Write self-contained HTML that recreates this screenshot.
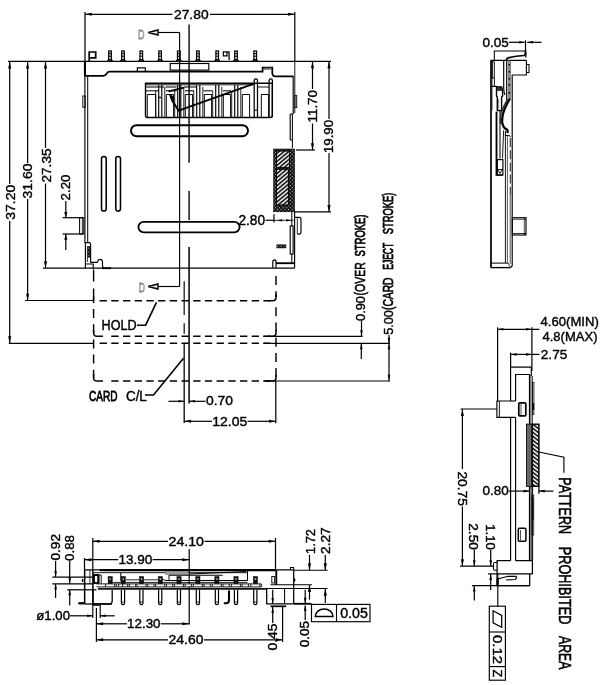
<!DOCTYPE html>
<html lang="en"><head><meta charset="utf-8"><title>Card connector drawing</title>
<style>
html,body{margin:0;padding:0;background:#fff;}
body{width:605px;height:685px;overflow:hidden;}
svg{display:block;will-change:transform;opacity:0.999;font-family:"Liberation Sans",sans-serif;}
text{stroke:#000;stroke-width:0.4px;}
</style></head><body>
<svg width="605" height="685" viewBox="0 0 605 685">
<defs>
<pattern id="h1" width="3.1" height="3.1" patternUnits="userSpaceOnUse" patternTransform="rotate(50)"><line x1="1" y1="0" x2="1" y2="3.1" stroke="#000" stroke-width="1.55"/></pattern>
<pattern id="h2" width="2.6" height="2.6" patternUnits="userSpaceOnUse" patternTransform="rotate(45)"><rect width="2.6" height="2.6" fill="#000"/><rect x="0.7" y="0.7" width="1.2" height="1.2" fill="#ddd"/></pattern>
<pattern id="h3" width="3.2" height="3.2" patternUnits="userSpaceOnUse" patternTransform="rotate(-53)"><line x1="1" y1="0" x2="1" y2="3.2" stroke="#000" stroke-width="1.5"/></pattern>
</defs>
<rect width="605" height="685" fill="#fff"/>
<line x1="8" y1="61.35" x2="331" y2="61.35" stroke="#000" stroke-width="1.44"/>
<line x1="9.7" y1="61" x2="9.7" y2="184" stroke="#000" stroke-width="1.21"/>
<line x1="9.7" y1="221" x2="9.7" y2="343" stroke="#000" stroke-width="1.21"/>
<line x1="27.6" y1="61" x2="27.6" y2="163" stroke="#000" stroke-width="1.21"/>
<line x1="27.6" y1="199" x2="27.6" y2="300.5" stroke="#000" stroke-width="1.21"/>
<line x1="45.5" y1="61" x2="45.5" y2="148" stroke="#000" stroke-width="1.21"/>
<line x1="45.5" y1="183.5" x2="45.5" y2="268" stroke="#000" stroke-width="1.21"/>
<polygon points="9.7,61.8 8.139999999999999,68.6 11.26,68.6" fill="#000"/>
<polygon points="27.6,61.8 26.040000000000003,68.6 29.16,68.6" fill="#000"/>
<polygon points="45.5,61.8 43.94,68.6 47.06,68.6" fill="#000"/>
<polygon points="9.7,343 8.139999999999999,336.2 11.26,336.2" fill="#000"/>
<polygon points="27.6,300.5 26.040000000000003,293.7 29.16,293.7" fill="#000"/>
<polygon points="45.5,268 43.94,261.2 47.06,261.2" fill="#000"/>
<text transform="translate(14.6,219.75) rotate(-90)" font-size="13.6" fill="#000" textLength="35" lengthAdjust="spacingAndGlyphs">37.20</text>
<text transform="translate(32,198.5) rotate(-90)" font-size="13.6" fill="#000" textLength="35" lengthAdjust="spacingAndGlyphs">31.60</text>
<text transform="translate(50.5,182.5) rotate(-90)" font-size="13.6" fill="#000" textLength="34" lengthAdjust="spacingAndGlyphs">27.35</text>
<line x1="85" y1="12" x2="85" y2="61" stroke="#000" stroke-width="1.21"/>
<line x1="294.8" y1="12" x2="294.8" y2="62" stroke="#000" stroke-width="1.21"/>
<line x1="85" y1="14.3" x2="172.5" y2="14.3" stroke="#000" stroke-width="1.21"/>
<line x1="210" y1="14.3" x2="294.8" y2="14.3" stroke="#000" stroke-width="1.21"/>
<polygon points="85,14.3 91.8,12.74 91.8,15.860000000000001" fill="#000"/>
<polygon points="294.8,14.3 288.0,12.74 288.0,15.860000000000001" fill="#000"/>
<text x="174" y="18.9" font-size="13.6" fill="#000" textLength="34.6" lengthAdjust="spacingAndGlyphs">27.80</text>
<text x="138" y="38.5" font-size="13" fill="#fff" textLength="6.5" lengthAdjust="spacingAndGlyphs" stroke="#888" stroke-width="0.6">D</text>
<text x="138.5" y="292" font-size="13" fill="#fff" textLength="6.5" lengthAdjust="spacingAndGlyphs" stroke="#888" stroke-width="0.6">D</text>
<polygon points="148.3,32.5 158,30.0 158,35.0" fill="#eee" stroke="#000" stroke-width="1.44" stroke-linejoin="miter"/>
<line x1="158" y1="32.5" x2="179.6" y2="32.5" stroke="#000" stroke-width="1.15"/>
<polygon points="148.3,286.5 158,284.0 158,289.0" fill="#eee" stroke="#000" stroke-width="1.44" stroke-linejoin="miter"/>
<line x1="158" y1="286.5" x2="179.6" y2="286.5" stroke="#000" stroke-width="1.15"/>
<line x1="179.6" y1="32.5" x2="179.6" y2="286.5" stroke="#000" stroke-width="1.15"/>
<line x1="189.1" y1="24.5" x2="189.1" y2="162.8" stroke="#333" stroke-width="1.72"/>
<line x1="189.1" y1="191" x2="189.1" y2="220" stroke="#333" stroke-width="1.72"/>
<line x1="189.1" y1="247" x2="189.1" y2="403.5" stroke="#222" stroke-width="1.72"/>
<line x1="184.2" y1="281.2" x2="184.2" y2="315" stroke="#222" stroke-width="1.32"/>
<line x1="184.2" y1="323.2" x2="184.2" y2="333.7" stroke="#222" stroke-width="1.32"/>
<line x1="184.2" y1="343" x2="184.2" y2="423" stroke="#111" stroke-width="1.38"/>
<path d="M85,61 V75.8 H103 Q105.6,75.8 106.7,73.6 Q107.6,71.7 110,71.7 H262.6 V67.6 H272.3 V73 Q272.3,76.4 276,76.4 H293.2" fill="none" stroke="#000" stroke-width="1.72"/>
<line x1="84.9" y1="61" x2="84.9" y2="75.8" stroke="#000" stroke-width="1.95"/>
<line x1="84.9" y1="75" x2="84.9" y2="243" stroke="#000" stroke-width="1.15"/>
<line x1="87.7" y1="76" x2="87.7" y2="243" stroke="#000" stroke-width="1.03"/>
<rect x="82.8" y="96" width="2.4" height="11.3" fill="none" stroke="#000" stroke-width="0.92"/>
<polyline points="137.3,71.7 137.3,67.9 145.3,67.9 145.3,71.7" fill="none" stroke="#000" stroke-width="1.15" stroke-linejoin="miter"/>
<rect x="170.2" y="63.5" width="38.6" height="6.6" fill="none" stroke="#000" stroke-width="1.15"/>
<rect x="264.4" y="68" width="7" height="1.6" fill="none" stroke="#555" stroke-width="0.69"/>
<line x1="293.2" y1="76" x2="293.2" y2="114" stroke="#000" stroke-width="1.15"/>
<line x1="294.8" y1="62" x2="294.8" y2="113" stroke="#000" stroke-width="0.92"/>
<rect x="294.9" y="95.6" width="1.8" height="12" fill="none" stroke="#000" stroke-width="0.92"/>
<line x1="290.2" y1="114" x2="290.2" y2="140" stroke="#000" stroke-width="1.15"/>
<line x1="292.4" y1="114" x2="292.4" y2="148" stroke="#000" stroke-width="1.03"/>
<line x1="290.2" y1="114" x2="293.2" y2="114" stroke="#000" stroke-width="1.03"/>
<line x1="290.2" y1="140" x2="292.4" y2="140" stroke="#000" stroke-width="1.03"/>
<rect x="108.7" y="51" width="2.6" height="9" fill="none" stroke="#000" stroke-width="1.26"/>
<line x1="108.7" y1="53.6" x2="111.3" y2="53.6" stroke="#000" stroke-width="1.03"/>
<line x1="108.7" y1="56.2" x2="111.3" y2="56.2" stroke="#000" stroke-width="1.03"/>
<polyline points="107.4,61 108.7,59.6 111.3,59.6 112.6,61" fill="none" stroke="#000" stroke-width="1.15" stroke-linejoin="miter"/>
<rect x="121.7" y="51" width="2.6" height="9" fill="none" stroke="#000" stroke-width="1.26"/>
<line x1="121.7" y1="53.6" x2="124.3" y2="53.6" stroke="#000" stroke-width="1.03"/>
<line x1="121.7" y1="56.2" x2="124.3" y2="56.2" stroke="#000" stroke-width="1.03"/>
<polyline points="120.4,61 121.7,59.6 124.3,59.6 125.6,61" fill="none" stroke="#000" stroke-width="1.15" stroke-linejoin="miter"/>
<rect x="140.0" y="51" width="2.6" height="9" fill="none" stroke="#000" stroke-width="1.26"/>
<line x1="140.0" y1="53.6" x2="142.60000000000002" y2="53.6" stroke="#000" stroke-width="1.03"/>
<line x1="140.0" y1="56.2" x2="142.60000000000002" y2="56.2" stroke="#000" stroke-width="1.03"/>
<polyline points="138.70000000000002,61 140.0,59.6 142.60000000000002,59.6 143.9,61" fill="none" stroke="#000" stroke-width="1.15" stroke-linejoin="miter"/>
<rect x="158.79999999999998" y="51" width="2.6" height="9" fill="none" stroke="#000" stroke-width="1.26"/>
<line x1="158.79999999999998" y1="53.6" x2="161.4" y2="53.6" stroke="#000" stroke-width="1.03"/>
<line x1="158.79999999999998" y1="56.2" x2="161.4" y2="56.2" stroke="#000" stroke-width="1.03"/>
<polyline points="157.5,61 158.79999999999998,59.6 161.4,59.6 162.7,61" fill="none" stroke="#000" stroke-width="1.15" stroke-linejoin="miter"/>
<rect x="177.5" y="51" width="2.6" height="9" fill="none" stroke="#000" stroke-width="1.26"/>
<line x1="177.5" y1="53.6" x2="180.10000000000002" y2="53.6" stroke="#000" stroke-width="1.03"/>
<line x1="177.5" y1="56.2" x2="180.10000000000002" y2="56.2" stroke="#000" stroke-width="1.03"/>
<polyline points="176.20000000000002,61 177.5,59.6 180.10000000000002,59.6 181.4,61" fill="none" stroke="#000" stroke-width="1.15" stroke-linejoin="miter"/>
<rect x="196.6" y="51" width="2.6" height="9" fill="none" stroke="#000" stroke-width="1.26"/>
<line x1="196.6" y1="53.6" x2="199.20000000000002" y2="53.6" stroke="#000" stroke-width="1.03"/>
<line x1="196.6" y1="56.2" x2="199.20000000000002" y2="56.2" stroke="#000" stroke-width="1.03"/>
<polyline points="195.3,61 196.6,59.6 199.20000000000002,59.6 200.5,61" fill="none" stroke="#000" stroke-width="1.15" stroke-linejoin="miter"/>
<rect x="215.89999999999998" y="51" width="2.6" height="9" fill="none" stroke="#000" stroke-width="1.26"/>
<line x1="215.89999999999998" y1="53.6" x2="218.5" y2="53.6" stroke="#000" stroke-width="1.03"/>
<line x1="215.89999999999998" y1="56.2" x2="218.5" y2="56.2" stroke="#000" stroke-width="1.03"/>
<polyline points="214.6,61 215.89999999999998,59.6 218.5,59.6 219.79999999999998,61" fill="none" stroke="#000" stroke-width="1.15" stroke-linejoin="miter"/>
<rect x="234.7" y="51" width="2.6" height="9" fill="none" stroke="#000" stroke-width="1.26"/>
<line x1="234.7" y1="53.6" x2="237.3" y2="53.6" stroke="#000" stroke-width="1.03"/>
<line x1="234.7" y1="56.2" x2="237.3" y2="56.2" stroke="#000" stroke-width="1.03"/>
<polyline points="233.4,61 234.7,59.6 237.3,59.6 238.6,61" fill="none" stroke="#000" stroke-width="1.15" stroke-linejoin="miter"/>
<rect x="253.89999999999998" y="51" width="2.6" height="9" fill="none" stroke="#000" stroke-width="1.26"/>
<line x1="253.89999999999998" y1="53.6" x2="256.5" y2="53.6" stroke="#000" stroke-width="1.03"/>
<line x1="253.89999999999998" y1="56.2" x2="256.5" y2="56.2" stroke="#000" stroke-width="1.03"/>
<polyline points="252.6,61 253.89999999999998,59.6 256.5,59.6 257.8,61" fill="none" stroke="#000" stroke-width="1.15" stroke-linejoin="miter"/>
<polyline points="89.2,61 89.2,52 95.7,52 95.7,57.8 89.2,57.8" fill="none" stroke="#000" stroke-width="1.72" stroke-linejoin="miter"/>
<polyline points="229.1,60 229.1,51.9 223.4,51.9 223.4,55.8 227,55.8 227,51.9" fill="none" stroke="#000" stroke-width="1.26" stroke-linejoin="miter"/>
<path d="M145.5,83.3 H272.3 V115.5 Q272.3,117.5 270,117.5 H147.5 Q145.5,117.5 145.5,115.5 Z" fill="none" stroke="#000" stroke-width="1.38"/>
<line x1="145.5" y1="84.8" x2="253" y2="84.8" stroke="#000" stroke-width="0.92"/>
<line x1="145.5" y1="87" x2="164" y2="87" stroke="#000" stroke-width="1.03"/>
<line x1="165.6" y1="87" x2="176.6" y2="87" stroke="#000" stroke-width="1.03"/>
<line x1="184" y1="87" x2="196" y2="87" stroke="#000" stroke-width="1.03"/>
<line x1="145.5" y1="90.8" x2="158.6" y2="90.8" stroke="#000" stroke-width="1.03"/>
<line x1="166" y1="90.8" x2="176.6" y2="90.8" stroke="#000" stroke-width="1.03"/>
<line x1="185" y1="90.8" x2="194" y2="90.8" stroke="#000" stroke-width="1.03"/>
<line x1="203.5" y1="90.8" x2="212.5" y2="90.8" stroke="#000" stroke-width="1.03"/>
<line x1="223" y1="90.8" x2="231" y2="90.8" stroke="#000" stroke-width="1.03"/>
<polyline points="147.3,117.3 147.3,94.5 155.7,94.5 155.7,117.3" fill="none" stroke="#000" stroke-width="0.98" stroke-linejoin="miter"/>
<polyline points="166.3,117.3 166.3,94.5 173.6,94.5 173.6,117.3" fill="none" stroke="#000" stroke-width="0.98" stroke-linejoin="miter"/>
<line x1="158.7" y1="85" x2="158.7" y2="117.3" stroke="#000" stroke-width="1.15"/>
<line x1="161.8" y1="85" x2="161.8" y2="117.3" stroke="#000" stroke-width="1.15"/>
<line x1="155.7" y1="90.8" x2="155.7" y2="117.3" stroke="#000" stroke-width="0.86"/>
<line x1="164.8" y1="87" x2="164.8" y2="117.3" stroke="#000" stroke-width="0.86"/>
<polyline points="185.3,117.3 185.3,94.5 192.6,94.5 192.6,117.3" fill="none" stroke="#000" stroke-width="0.98" stroke-linejoin="miter"/>
<line x1="177.7" y1="85" x2="177.7" y2="117.3" stroke="#000" stroke-width="1.15"/>
<line x1="180.8" y1="85" x2="180.8" y2="117.3" stroke="#000" stroke-width="1.15"/>
<line x1="174.7" y1="90.8" x2="174.7" y2="117.3" stroke="#000" stroke-width="0.86"/>
<line x1="183.8" y1="87" x2="183.8" y2="117.3" stroke="#000" stroke-width="0.86"/>
<polyline points="204.3,117.3 204.3,94.5 211.6,94.5 211.6,117.3" fill="none" stroke="#000" stroke-width="0.98" stroke-linejoin="miter"/>
<line x1="196.7" y1="85" x2="196.7" y2="117.3" stroke="#000" stroke-width="1.15"/>
<line x1="199.8" y1="85" x2="199.8" y2="117.3" stroke="#000" stroke-width="1.15"/>
<line x1="193.7" y1="90.8" x2="193.7" y2="117.3" stroke="#000" stroke-width="0.86"/>
<line x1="202.8" y1="87" x2="202.8" y2="117.3" stroke="#000" stroke-width="0.86"/>
<polyline points="223.3,117.3 223.3,94.5 230.6,94.5 230.6,117.3" fill="none" stroke="#000" stroke-width="0.98" stroke-linejoin="miter"/>
<line x1="215.7" y1="85" x2="215.7" y2="117.3" stroke="#000" stroke-width="1.15"/>
<line x1="218.8" y1="85" x2="218.8" y2="117.3" stroke="#000" stroke-width="1.15"/>
<line x1="212.7" y1="90.8" x2="212.7" y2="117.3" stroke="#000" stroke-width="0.86"/>
<line x1="221.8" y1="87" x2="221.8" y2="117.3" stroke="#000" stroke-width="0.86"/>
<polyline points="242.3,117.3 242.3,94.5 249.6,94.5 249.6,117.3" fill="none" stroke="#000" stroke-width="0.98" stroke-linejoin="miter"/>
<line x1="234.7" y1="85" x2="234.7" y2="117.3" stroke="#000" stroke-width="1.15"/>
<line x1="237.8" y1="85" x2="237.8" y2="117.3" stroke="#000" stroke-width="1.15"/>
<line x1="231.7" y1="90.8" x2="231.7" y2="117.3" stroke="#000" stroke-width="0.86"/>
<line x1="240.8" y1="87" x2="240.8" y2="117.3" stroke="#000" stroke-width="0.86"/>
<polyline points="261.3,117.3 261.3,94.5 268.6,94.5 268.6,117.3" fill="none" stroke="#000" stroke-width="0.98" stroke-linejoin="miter"/>
<line x1="160" y1="96.8" x2="160" y2="98.2" stroke="#000" stroke-width="1.84"/>
<path d="M254.2,117.3 V80.6 Q254.2,78.9 255.79999999999998,78.9 Q257.5,78.9 257.5,80.6 V117.3" fill="none" stroke="#000" stroke-width="1.26"/>
<path d="M269.1,117.3 V80.6 Q269.1,78.9 270.70000000000005,78.9 Q272.40000000000003,78.9 272.40000000000003,80.6 V117.3" fill="none" stroke="#000" stroke-width="1.26"/>
<line x1="254.2" y1="110.2" x2="257.5" y2="110.2" stroke="#000" stroke-width="1.15"/>
<line x1="257.5" y1="87" x2="269" y2="87" stroke="#000" stroke-width="0.92"/>
<path d="M184,87.6 L168.5,91.3" fill="none" stroke="#000" stroke-width="1.84"/>
<path d="M170.3,95.5 L172.2,100.5 L178.6,110.6 L255,83.4" fill="none" stroke="#000" stroke-width="1.84"/>
<path d="M170,95 L173.5,97 L172.5,101 Z" fill="#000" stroke="#000" stroke-width="1.15"/>
<rect x="131" y="125.2" width="117" height="11" fill="none" stroke="#000" stroke-width="1.95" rx="5.5"/>
<rect x="138.4" y="221.8" width="101.2" height="10.5" fill="none" stroke="#000" stroke-width="1.84" rx="5.25"/>
<rect x="101.5" y="156.5" width="4.7" height="54.5" fill="none" stroke="#000" stroke-width="1.55" rx="2.35"/>
<rect x="115.8" y="156.5" width="4.7" height="54.5" fill="none" stroke="#000" stroke-width="1.55" rx="2.35"/>
<rect x="273.7" y="149" width="20.9" height="62.8" fill="url(#h2)" stroke="#000" stroke-width="0.57"/>
<rect x="276.6" y="151" width="13.1" height="16.7" fill="#fff" stroke="#000" stroke-width="0.69"/>
<rect x="276.6" y="151" width="13.1" height="16.7" fill="url(#h1)" stroke="#000" stroke-width="0.69"/>
<rect x="276.6" y="169.2" width="11.7" height="35.8" fill="#fff" stroke="#000" stroke-width="0.69"/>
<rect x="276.6" y="169.2" width="11.7" height="35.8" fill="url(#h1)" stroke="#000" stroke-width="0.69"/>
<line x1="294.8" y1="211.8" x2="331" y2="211.8" stroke="#000" stroke-width="1.21"/>
<line x1="296" y1="150" x2="315" y2="150" stroke="#000" stroke-width="1.21"/>
<line x1="312.5" y1="61" x2="312.5" y2="89" stroke="#000" stroke-width="1.21"/>
<line x1="312.5" y1="123.5" x2="312.5" y2="150" stroke="#000" stroke-width="1.21"/>
<polygon points="312.5,61.5 310.94,68.3 314.06,68.3" fill="#000"/>
<polygon points="312.5,150 310.94,143.2 314.06,143.2" fill="#000"/>
<text transform="translate(317.0,122.5) rotate(-90)" font-size="13.6" fill="#000" textLength="32.5" lengthAdjust="spacingAndGlyphs">11.70</text>
<line x1="329" y1="61" x2="329" y2="119" stroke="#000" stroke-width="1.21"/>
<line x1="329" y1="153" x2="329" y2="211.8" stroke="#000" stroke-width="1.21"/>
<polygon points="329,61.5 327.44,68.3 330.56,68.3" fill="#000"/>
<polygon points="329,211.8 327.44,205.0 330.56,205.0" fill="#000"/>
<text transform="translate(333.4,153) rotate(-90)" font-size="13.6" fill="#000" textLength="33" lengthAdjust="spacingAndGlyphs">19.90</text>
<text transform="translate(69.8,200.5) rotate(-90)" font-size="13.6" fill="#000" textLength="26" lengthAdjust="spacingAndGlyphs">2.20</text>
<line x1="65.8" y1="201" x2="65.8" y2="217.5" stroke="#000" stroke-width="1.21"/>
<polygon points="65.8,217.7 64.24,211.89999999999998 67.36,211.89999999999998" fill="#000"/>
<line x1="65.8" y1="234" x2="65.8" y2="250" stroke="#000" stroke-width="1.21"/>
<polygon points="65.8,234 64.24,239.8 67.36,239.8" fill="#000"/>
<line x1="62.5" y1="217.7" x2="83" y2="217.7" stroke="#000" stroke-width="1.21"/>
<line x1="62.5" y1="234" x2="83" y2="234" stroke="#000" stroke-width="1.21"/>
<rect x="79.6" y="217.7" width="4.2" height="16.3" fill="none" stroke="#000" stroke-width="1.03"/>
<line x1="82.4" y1="217.7" x2="82.4" y2="234" stroke="#000" stroke-width="0.8"/>
<path d="M85.2,242.6 H89 Q90.6,242.6 90.6,244.5 V262.5" fill="none" stroke="#000" stroke-width="1.15"/>
<line x1="85.4" y1="242.6" x2="85.4" y2="268.4" stroke="#000" stroke-width="1.15"/>
<rect x="88" y="246.7" width="1.8" height="10.5" fill="url(#h2)" stroke="#000" stroke-width="0.46"/>
<line x1="87.4" y1="246" x2="87.4" y2="262" stroke="#000" stroke-width="0.8"/>
<path d="M85.4,264 H93.2 V268.4 M90.6,262.4 H97 Q97.8,262.4 97.8,261 Q98.2,259.3 100.2,259.3 Q102.3,259.3 102.5,262 V266 Q102.6,267.5 104,267.5" fill="none" stroke="#000" stroke-width="1.15"/>
<line x1="43" y1="268.2" x2="294.8" y2="268.2" stroke="#000" stroke-width="1.26"/>
<line x1="102" y1="268.2" x2="111" y2="268.2" stroke="#000" stroke-width="1.84"/>
<line x1="291.8" y1="211.8" x2="291.8" y2="226" stroke="#000" stroke-width="1.03"/>
<line x1="294.6" y1="211" x2="294.6" y2="268" stroke="#000" stroke-width="1.15"/>
<path d="M295,217.3 H299 Q301,217.3 301,219.3 V232 Q301,234.1 299,234.1 H297.3" fill="none" stroke="#000" stroke-width="1.15"/>
<line x1="297.3" y1="217.5" x2="297.3" y2="234" stroke="#000" stroke-width="0.8"/>
<rect x="290.2" y="226" width="2.9" height="28" fill="none" stroke="#000" stroke-width="1.15"/>
<line x1="291.8" y1="254" x2="291.8" y2="263" stroke="#000" stroke-width="1.03"/>
<rect x="276.8" y="244.8" width="9.2" height="3.2" fill="url(#h2)" stroke="#000" stroke-width="0.46"/>
<path d="M272.8,268 V262 Q272.8,259.8 274.5,259.8 Q276,259.8 276,262 V268" fill="none" stroke="#000" stroke-width="1.15"/>
<line x1="276" y1="263.2" x2="294" y2="263.2" stroke="#000" stroke-width="1.84"/>
<text x="238.4" y="225.3" font-size="14" fill="#000" textLength="26.6" lengthAdjust="spacingAndGlyphs">2.80</text>
<line x1="265.5" y1="220.3" x2="274" y2="220.3" stroke="#000" stroke-width="1.21"/>
<line x1="274" y1="214.2" x2="274" y2="222.6" stroke="#000" stroke-width="1.21"/>
<line x1="274" y1="220.3" x2="293.5" y2="220.3" stroke="#000" stroke-width="0.8"/>
<polygon points="276.5,220.3 282.3,219.13000000000002 282.3,221.47" fill="#000"/>
<polygon points="292,220.3 286.2,219.13000000000002 286.2,221.47" fill="#000"/>
<line x1="93.6" y1="269.5" x2="93.6" y2="300" stroke="#000" stroke-width="1.44" stroke-dasharray="12 7"/>
<line x1="93.6" y1="309" x2="93.6" y2="378" stroke="#000" stroke-width="1.44" stroke-dasharray="9 6.2"/>
<path d="M93.6,330 V333 Q93.6,336.3 97,336.3 H103" fill="none" stroke="#000" stroke-width="1.44"/>
<path d="M93.6,374 V378 Q93.6,381 97,381 H103" fill="none" stroke="#000" stroke-width="1.44"/>
<line x1="93.6" y1="296" x2="93.6" y2="303" stroke="#000" stroke-width="1.44"/>
<line x1="99.6" y1="300.7" x2="270" y2="300.7" stroke="#000" stroke-width="1.44" stroke-dasharray="7.3 4.4"/>
<line x1="111.3" y1="336.3" x2="270" y2="336.3" stroke="#000" stroke-width="1.44" stroke-dasharray="7.3 4.4"/>
<line x1="99.6" y1="343.2" x2="270" y2="343.2" stroke="#000" stroke-width="1.44" stroke-dasharray="7.3 4.4"/>
<line x1="111.3" y1="381" x2="270" y2="381" stroke="#000" stroke-width="1.44" stroke-dasharray="7.3 4.4"/>
<line x1="276" y1="276" x2="276" y2="297" stroke="#000" stroke-width="1.44" stroke-dasharray="9 6.2"/>
<line x1="276" y1="307.3" x2="276" y2="378" stroke="#000" stroke-width="1.44" stroke-dasharray="9 6.2"/>
<path d="M268,300.7 H273 Q276,300.7 276,297.5 V294" fill="none" stroke="#000" stroke-width="1.44"/>
<path d="M268,336.3 H273 Q276,336.3 276,333 V330" fill="none" stroke="#000" stroke-width="1.44"/>
<path d="M266,381 H273 Q276,381 276,378 V375" fill="none" stroke="#000" stroke-width="1.44"/>
<line x1="25" y1="300.5" x2="93.8" y2="300.5" stroke="#000" stroke-width="1.21"/>
<line x1="8.8" y1="343.3" x2="93.8" y2="343.3" stroke="#000" stroke-width="1.21"/>
<line x1="263.5" y1="343.3" x2="390" y2="343.3" stroke="#000" stroke-width="1.21"/>
<line x1="263.5" y1="381" x2="390" y2="381" stroke="#000" stroke-width="1.21"/>
<line x1="263.5" y1="336.3" x2="362.5" y2="336.3" stroke="#000" stroke-width="1.21"/>
<text x="101.6" y="330" font-size="14.5" fill="#000" textLength="35" lengthAdjust="spacingAndGlyphs" style="stroke-width:0.45px">HOLD</text>
<polyline points="137,325.2 145.6,325.2 156.5,302.4" fill="none" stroke="#000" stroke-width="1.61" stroke-linejoin="miter"/>
<text x="89" y="400.6" font-size="15" fill="#000" textLength="28.5" lengthAdjust="spacingAndGlyphs" style="stroke-width:0.8px">CARD</text>
<text x="126" y="400.6" font-size="15" fill="#000" textLength="20.8" lengthAdjust="spacingAndGlyphs" style="stroke-width:0.45px">C/L</text>
<polyline points="145,395 153.5,395 183.5,358.3" fill="none" stroke="#000" stroke-width="1.61" stroke-linejoin="miter"/>
<line x1="168.5" y1="401.3" x2="184.3" y2="401.3" stroke="#000" stroke-width="1.21"/>
<polygon points="184.3,401.3 178.5,400.0 178.5,402.6" fill="#000"/>
<line x1="189" y1="401.3" x2="205.5" y2="401.3" stroke="#000" stroke-width="1.21"/>
<polygon points="189,401.3 194.8,400.0 194.8,402.6" fill="#000"/>
<text x="206" y="405.4" font-size="13.6" fill="#000" textLength="27" lengthAdjust="spacingAndGlyphs">0.70</text>
<line x1="184.3" y1="421.3" x2="212" y2="421.3" stroke="#000" stroke-width="1.21"/>
<line x1="247.5" y1="421.3" x2="275.8" y2="421.3" stroke="#000" stroke-width="1.21"/>
<polygon points="184.3,421.3 191.10000000000002,419.74 191.10000000000002,422.86" fill="#000"/>
<polygon points="275.8,421.3 269.0,419.74 269.0,422.86" fill="#000"/>
<text x="212.3" y="425.6" font-size="13.6" fill="#000" textLength="35" lengthAdjust="spacingAndGlyphs">12.05</text>
<line x1="275.8" y1="381" x2="275.8" y2="423.3" stroke="#000" stroke-width="1.21"/>
<text transform="translate(365.2,321) rotate(-90)" font-size="13.6" fill="#000" textLength="25" lengthAdjust="spacingAndGlyphs">0.90</text>
<text transform="translate(365.2,295.5) rotate(-90)" font-size="14" fill="#000" textLength="33.3" lengthAdjust="spacingAndGlyphs" style="stroke-width:0.62px">(OVER</text>
<text transform="translate(365.2,256.5) rotate(-90)" font-size="14" fill="#000" textLength="42" lengthAdjust="spacingAndGlyphs" style="stroke-width:0.75px">STROKE)</text>
<line x1="361.5" y1="321" x2="361.5" y2="336" stroke="#000" stroke-width="1.21"/>
<polygon points="361.5,336 360.2,330.2 362.8,330.2" fill="#000"/>
<line x1="361.3" y1="343.5" x2="361.3" y2="359" stroke="#000" stroke-width="1.21"/>
<polygon points="361.3,343.5 360.0,349.3 362.6,349.3" fill="#000"/>
<text transform="translate(392.7,334.8) rotate(-90)" font-size="13.6" fill="#000" textLength="24.5" lengthAdjust="spacingAndGlyphs">5.00</text>
<text transform="translate(392.7,310) rotate(-90)" font-size="14" fill="#000" textLength="32.5" lengthAdjust="spacingAndGlyphs" style="stroke-width:0.65px">(CARD</text>
<text transform="translate(392.7,269.8) rotate(-90)" font-size="14" fill="#000" textLength="27" lengthAdjust="spacingAndGlyphs" style="stroke-width:0.85px">EJECT</text>
<text transform="translate(392.7,234.3) rotate(-90)" font-size="14" fill="#000" textLength="41.6" lengthAdjust="spacingAndGlyphs" style="stroke-width:0.75px">STROKE)</text>
<line x1="389" y1="335" x2="389" y2="381" stroke="#000" stroke-width="1.21"/>
<polygon points="389,343.5 387.7,337.7 390.3,337.7" fill="#000"/>
<polygon points="389,380.6 387.7,374.8 390.3,374.8" fill="#000"/>
<polygon points="389,343.5 387.7,349.3 390.3,349.3" fill="#000"/>
<text x="482.6" y="46.6" font-size="13.6" fill="#000" textLength="26.3" lengthAdjust="spacingAndGlyphs">0.05</text>
<line x1="509" y1="42.3" x2="524.6" y2="42.3" stroke="#000" stroke-width="1.21"/>
<polygon points="525,42.3 519.2,41.0 519.2,43.599999999999994" fill="#000"/>
<line x1="525.5" y1="40.3" x2="525.5" y2="52" stroke="#000" stroke-width="1.21"/>
<polygon points="527.2,42.3 533.0,41.0 533.0,43.599999999999994" fill="#000"/>
<line x1="527.2" y1="42.3" x2="541.6" y2="42.3" stroke="#000" stroke-width="1.21"/>
<polyline points="525.2,51 494.3,51 494.3,60.4" fill="none" stroke="#000" stroke-width="1.03" stroke-linejoin="miter"/>
<path d="M525.5,50 Q525.6,55 524,55.5 Q516,56 507.5,58 Q506.5,58.5 506.5,60.4" fill="none" stroke="#000" stroke-width="1.72"/>
<path d="M525.8,52 V57.5" fill="none" stroke="#000" stroke-width="1.38"/>
<line x1="491" y1="60.4" x2="491" y2="267.6" stroke="#000" stroke-width="1.72"/>
<line x1="492.5" y1="60.4" x2="492.5" y2="110" stroke="#555" stroke-width="0.57"/>
<line x1="490.6" y1="60.4" x2="526.4" y2="60.4" stroke="#000" stroke-width="1.26"/>
<line x1="490.6" y1="267.6" x2="510.5" y2="267.6" stroke="#000" stroke-width="1.38"/>
<line x1="490.6" y1="263.1" x2="508" y2="263.1" stroke="#000" stroke-width="1.03"/>
<line x1="512.2" y1="75" x2="512.2" y2="266" stroke="#000" stroke-width="1.15"/>
<path d="M512.2,266 L510.5,267.6" fill="none" stroke="#000" stroke-width="1.15"/>
<line x1="508" y1="263" x2="510.4" y2="267" stroke="#000" stroke-width="0.8"/>
<polyline points="526.4,60.4 526.4,75 512.2,75" fill="none" stroke="#000" stroke-width="1.15" stroke-linejoin="miter"/>
<polyline points="526.4,64.5 529,64.5 529,72.6 526.4,72.6" fill="none" stroke="#000" stroke-width="1.03" stroke-linejoin="miter"/>
<rect x="492.3" y="61.8" width="2" height="16.2" fill="none" stroke="#000" stroke-width="0.92"/>
<line x1="494.4" y1="78" x2="494.4" y2="86.4" stroke="#000" stroke-width="0.92"/>
<line x1="491" y1="86.4" x2="497" y2="86.4" stroke="#000" stroke-width="1.15"/>
<path d="M503.7,60.4 V88 Q503.7,92 505,95" fill="none" stroke="#000" stroke-width="1.15"/>
<line x1="506.7" y1="58.5" x2="506.7" y2="100" stroke="#000" stroke-width="1.15"/>
<rect x="507.6" y="60.6" width="3.5" height="38" fill="#8c8c8c" stroke="none" stroke-width="0.0"/>
<line x1="509.3" y1="64" x2="509.3" y2="65.6" stroke="#000" stroke-width="1.49"/>
<line x1="509.3" y1="71" x2="509.3" y2="72.6" stroke="#000" stroke-width="1.49"/>
<line x1="509.3" y1="78" x2="509.3" y2="79.6" stroke="#000" stroke-width="1.49"/>
<line x1="509.3" y1="84" x2="509.3" y2="85.6" stroke="#000" stroke-width="1.49"/>
<line x1="509.3" y1="92" x2="509.3" y2="93.6" stroke="#000" stroke-width="1.49"/>
<line x1="510.3" y1="138" x2="510.3" y2="195" stroke="#222" stroke-width="1.03" stroke-dasharray="9 3.2"/>
<line x1="510.2" y1="195" x2="510.2" y2="264" stroke="#222" stroke-width="0.75"/>
<path d="M496.5,87 H501.5 L502.6,90.5 V96 L501.6,97 V110.5 H497.3 V97 L496.5,96 Z" fill="none" stroke="#000" stroke-width="1.38"/>
<rect x="496.5" y="87" width="5.5" height="3.4" fill="#333" stroke="#000" stroke-width="0.57"/>
<line x1="498.6" y1="99" x2="498.6" y2="108.5" stroke="#666" stroke-width="0.8"/>
<line x1="500" y1="110.5" x2="500" y2="158.4" stroke="#000" stroke-width="1.03"/>
<line x1="496.5" y1="111.7" x2="496.5" y2="175.3" stroke="#000" stroke-width="1.84"/>
<line x1="495.6" y1="175.3" x2="503" y2="175.3" stroke="#000" stroke-width="1.03"/>
<rect x="497.3" y="159.6" width="5.6" height="15.2" fill="none" stroke="#000" stroke-width="1.15"/>
<path d="M498,170 L500,173.5 L502,170" fill="none" stroke="#000" stroke-width="0.92"/>
<line x1="497.3" y1="169.5" x2="503" y2="169.5" stroke="#000" stroke-width="0.92"/>
<path d="M510,98.5 Q505,107 503.4,112.5 Q501.6,118 502.3,123 Q503.4,128.3 506.7,129.4 Q508.3,131 507.3,133" fill="none" stroke="#000" stroke-width="2.3"/>
<path d="M507.8,99 Q502.5,108 500.8,114 Q500,120 500.6,124" fill="none" stroke="#333" stroke-width="1.49"/>
<line x1="503.6" y1="130.4" x2="502.5" y2="158.4" stroke="#000" stroke-width="0.92"/>
<path d="M505.4,131 V135.5 H508.5 Q510,135.5 510.3,137" fill="none" stroke="#000" stroke-width="1.03"/>
<line x1="505.4" y1="135" x2="505.4" y2="263" stroke="#000" stroke-width="0.92"/>
<line x1="507.4" y1="136" x2="507.4" y2="263" stroke="#222" stroke-width="0.75"/>
<rect x="512.3" y="217.7" width="13.7" height="17.3" fill="none" stroke="#000" stroke-width="1.15"/>
<line x1="512.3" y1="219.2" x2="526" y2="219.2" stroke="#000" stroke-width="0.8"/>
<line x1="512.3" y1="233.5" x2="526" y2="233.5" stroke="#000" stroke-width="0.8"/>
<line x1="524.3" y1="217.7" x2="524.3" y2="235" stroke="#000" stroke-width="0.69"/>
<text x="540.5" y="325.6" font-size="13.6" fill="#000" textLength="58.3" lengthAdjust="spacingAndGlyphs">4.60(MIN)</text>
<text x="542.5" y="341.2" font-size="13.6" fill="#000" textLength="55" lengthAdjust="spacingAndGlyphs">4.8(MAX)</text>
<line x1="497.5" y1="329.3" x2="539.3" y2="329.3" stroke="#000" stroke-width="1.21"/>
<polygon points="497.6,329.3 503.40000000000003,328.0 503.40000000000003,330.6" fill="#000"/>
<polygon points="531.8,329.3 526.0,328.0 526.0,330.6" fill="#000"/>
<line x1="497.6" y1="327.3" x2="497.6" y2="401" stroke="#000" stroke-width="1.21"/>
<line x1="531.9" y1="327.3" x2="531.9" y2="371" stroke="#000" stroke-width="1.21"/>
<line x1="510.6" y1="352.6" x2="510.6" y2="367" stroke="#000" stroke-width="1.21"/>
<line x1="510.6" y1="354.4" x2="539.5" y2="354.4" stroke="#000" stroke-width="1.21"/>
<polygon points="510.7,354.4 516.5,353.09999999999997 516.5,355.7" fill="#000"/>
<polygon points="531.8,354.4 526.0,353.09999999999997 526.0,355.7" fill="#000"/>
<text x="540.8" y="358.8" font-size="13.6" fill="#000" textLength="26.5" lengthAdjust="spacingAndGlyphs">2.75</text>
<line x1="510.6" y1="367.1" x2="531.1" y2="367.1" stroke="#000" stroke-width="1.26"/>
<line x1="510.6" y1="367.1" x2="510.6" y2="401" stroke="#000" stroke-width="1.15"/>
<line x1="510.6" y1="417.4" x2="510.6" y2="560.7" stroke="#000" stroke-width="1.15"/>
<polyline points="529.6,374.5 515.6,374.5 515.6,401" fill="none" stroke="#000" stroke-width="1.15" stroke-linejoin="miter"/>
<line x1="515.6" y1="417.4" x2="515.6" y2="560.7" stroke="#000" stroke-width="1.15"/>
<line x1="529.7" y1="374.5" x2="529.7" y2="561" stroke="#000" stroke-width="1.61"/>
<line x1="531.3" y1="367.1" x2="531.3" y2="376" stroke="#000" stroke-width="1.15"/>
<line x1="532.2" y1="376" x2="532.2" y2="424" stroke="#000" stroke-width="1.03"/>
<rect x="532.3" y="382.4" width="1.6" height="32" fill="none" stroke="#000" stroke-width="0.8"/>
<line x1="533.4" y1="403" x2="533.4" y2="410" stroke="#000" stroke-width="1.61"/>
<polyline points="510.6,401 496.9,401 496.9,417.4 515.6,417.4" fill="none" stroke="#000" stroke-width="1.15" stroke-linejoin="miter"/>
<line x1="499.4" y1="401" x2="499.4" y2="417.4" stroke="#000" stroke-width="0.92"/>
<line x1="510.6" y1="401" x2="515.6" y2="401" stroke="#000" stroke-width="1.15"/>
<rect x="518.8" y="402.8" width="7" height="13" fill="none" stroke="#000" stroke-width="1.72" rx="1"/>
<line x1="521" y1="404" x2="521" y2="415" stroke="#000" stroke-width="0.69"/>
<rect x="526.7" y="424.2" width="12.2" height="62" fill="#fff" stroke="#000" stroke-width="1.03"/>
<rect x="526.7" y="424.2" width="5.2" height="62" fill="#666" stroke="#000" stroke-width="0.57"/>
<rect x="531.9" y="424.2" width="7" height="62" fill="url(#h3)" stroke="#000" stroke-width="0.92"/>
<line x1="531.9" y1="486" x2="531.9" y2="561" stroke="#000" stroke-width="1.03"/>
<rect x="531.9" y="495" width="1.9" height="40" fill="none" stroke="#000" stroke-width="0.69"/>
<line x1="532.8" y1="497" x2="532.8" y2="520" stroke="#000" stroke-width="1.38"/>
<polyline points="538.9,452 563.9,457.2 563.9,472.8" fill="none" stroke="#000" stroke-width="1.15" stroke-linejoin="miter"/>
<text transform="translate(558.6,477.3) rotate(90)" font-size="16" fill="#000" textLength="56.7" lengthAdjust="spacingAndGlyphs" style="stroke-width:0.55px">PATTERN</text>
<text transform="translate(558.6,546.8) rotate(90)" font-size="16" fill="#000" textLength="77.5" lengthAdjust="spacingAndGlyphs" style="stroke-width:0.55px">PROHIBITED</text>
<text transform="translate(558.6,636) rotate(90)" font-size="16" fill="#000" textLength="33.3" lengthAdjust="spacingAndGlyphs" style="stroke-width:0.55px">AREA</text>
<text x="482.5" y="495.2" font-size="13.6" fill="#000" textLength="26.3" lengthAdjust="spacingAndGlyphs">0.80</text>
<line x1="508.8" y1="491.1" x2="529.3" y2="491.1" stroke="#000" stroke-width="1.21"/>
<polygon points="529.5,491.1 523.7,489.8 523.7,492.40000000000003" fill="#000"/>
<polygon points="538.9,491.1 544.6999999999999,489.8 544.6999999999999,492.40000000000003" fill="#000"/>
<line x1="538.9" y1="491.1" x2="553.5" y2="491.1" stroke="#000" stroke-width="1.21"/>
<line x1="538.9" y1="486" x2="538.9" y2="493.7" stroke="#000" stroke-width="1.21"/>
<line x1="460.5" y1="409" x2="496.9" y2="409" stroke="#000" stroke-width="1.21"/>
<line x1="462.4" y1="409" x2="462.4" y2="469" stroke="#000" stroke-width="1.21"/>
<line x1="462.4" y1="506.5" x2="462.4" y2="566" stroke="#000" stroke-width="1.21"/>
<polygon points="462.4,409.2 460.84,416.0 463.96,416.0" fill="#000"/>
<polygon points="462.4,566 460.84,559.2 463.96,559.2" fill="#000"/>
<text transform="translate(457.5,471.4) rotate(90)" font-size="13.6" fill="#000" textLength="34.6" lengthAdjust="spacingAndGlyphs">20.75</text>
<line x1="460" y1="566.2" x2="493.5" y2="566.2" stroke="#000" stroke-width="1.21"/>
<text transform="translate(468.8,523.3) rotate(90)" font-size="13.6" fill="#000" textLength="26.5" lengthAdjust="spacingAndGlyphs">2.50</text>
<line x1="474.3" y1="550" x2="474.3" y2="566" stroke="#000" stroke-width="1.21"/>
<polygon points="474.3,566 473.0,560.2 475.6,560.2" fill="#000"/>
<line x1="471.9" y1="585.6" x2="529.7" y2="585.6" stroke="#000" stroke-width="1.21"/>
<polygon points="474.3,585.8 473.0,591.5999999999999 475.6,591.5999999999999" fill="#000"/>
<line x1="474.3" y1="586" x2="474.3" y2="600.4" stroke="#000" stroke-width="1.21"/>
<text transform="translate(486,524.2) rotate(90)" font-size="13.6" fill="#000" textLength="25.6" lengthAdjust="spacingAndGlyphs">1.10</text>
<line x1="490.7" y1="550" x2="490.7" y2="566" stroke="#000" stroke-width="1.21"/>
<polygon points="490.7,566 489.4,560.2 492.0,560.2" fill="#000"/>
<line x1="488" y1="573.9" x2="498.4" y2="573.9" stroke="#000" stroke-width="1.21"/>
<polygon points="490.7,574.1 489.4,579.9 492.0,579.9" fill="#000"/>
<line x1="490.7" y1="574" x2="490.7" y2="590" stroke="#000" stroke-width="1.21"/>
<rect x="518.3" y="528.3" width="7.6" height="13" fill="none" stroke="#000" stroke-width="1.49" rx="1"/>
<line x1="520.5" y1="530" x2="520.5" y2="540" stroke="#000" stroke-width="0.69"/>
<polyline points="510.6,560.7 497.1,560.7 497.1,573.9 532.4,573.9 532.4,560.7 515.6,560.7" fill="none" stroke="#000" stroke-width="1.26" stroke-linejoin="miter"/>
<line x1="532.6" y1="424" x2="532.6" y2="561" stroke="#000" stroke-width="0.92"/>
<path d="M497.1,562.6 H494.8 Q493.5,562.6 493.5,564 V569 Q493.5,570.2 494.8,570.2 H497.1" fill="none" stroke="#000" stroke-width="1.03"/>
<polyline points="497.1,573.9 497.1,585.6 529.7,585.6 529.7,573.9" fill="none" stroke="#000" stroke-width="1.26" stroke-linejoin="miter"/>
<path d="M497.8,582 V579 L508,576.3 H516 Q517.5,578 515,579.5 L506,580" fill="none" stroke="#000" stroke-width="1.15"/>
<line x1="497.6" y1="578" x2="497.6" y2="585" stroke="#000" stroke-width="2.3"/>
<line x1="497.8" y1="573.9" x2="497.8" y2="606.2" stroke="#000" stroke-width="1.15"/>
<rect x="489.3" y="606.2" width="16.1" height="74" fill="none" stroke="#000" stroke-width="1.15"/>
<line x1="489.3" y1="632" x2="505.4" y2="632" stroke="#000" stroke-width="1.15"/>
<line x1="489.3" y1="666.6" x2="505.4" y2="666.6" stroke="#000" stroke-width="1.15"/>
<polygon points="493.1,610.8 501.7,615.4 501.7,627.2 493.1,622.8" fill="none" stroke="#000" stroke-width="1.26" stroke-linejoin="miter"/>
<text transform="translate(492.7,635) rotate(90)" font-size="13.5" fill="#000" textLength="29" lengthAdjust="spacingAndGlyphs">0.12</text>
<text transform="translate(492.7,669.5) rotate(90)" font-size="13.5" fill="#000" textLength="7.7" lengthAdjust="spacingAndGlyphs">Z</text>
<text transform="translate(60.0,560.5) rotate(-90)" font-size="13.6" fill="#000" textLength="26.5" lengthAdjust="spacingAndGlyphs">0.92</text>
<text transform="translate(74.4,561) rotate(-90)" font-size="13.6" fill="#000" textLength="26" lengthAdjust="spacingAndGlyphs">0.88</text>
<line x1="55.6" y1="561" x2="55.6" y2="577" stroke="#000" stroke-width="1.21"/>
<polygon points="55.6,577 54.300000000000004,571.2 56.9,571.2" fill="#000"/>
<polygon points="55.6,583.6 54.300000000000004,589.4 56.9,589.4" fill="#000"/>
<line x1="55.6" y1="584" x2="55.6" y2="598" stroke="#000" stroke-width="1.21"/>
<line x1="69.7" y1="561" x2="69.7" y2="583.4" stroke="#000" stroke-width="1.21"/>
<polygon points="69.7,583.4 68.4,577.6 71.0,577.6" fill="#000"/>
<polygon points="69.7,589.5 68.4,595.3 71.0,595.3" fill="#000"/>
<line x1="69.7" y1="590" x2="69.7" y2="605.5" stroke="#000" stroke-width="1.21"/>
<line x1="52.3" y1="577.2" x2="92.9" y2="577.2" stroke="#000" stroke-width="1.21"/>
<line x1="52.3" y1="583.8" x2="93.5" y2="583.8" stroke="#000" stroke-width="1.21"/>
<line x1="67.2" y1="589.8" x2="96.5" y2="589.8" stroke="#000" stroke-width="1.21"/>
<line x1="92.8" y1="538" x2="92.8" y2="569.5" stroke="#000" stroke-width="1.21"/>
<line x1="275.5" y1="538" x2="275.5" y2="569.5" stroke="#000" stroke-width="1.21"/>
<line x1="92.8" y1="541.3" x2="168" y2="541.3" stroke="#000" stroke-width="1.21"/>
<line x1="204.5" y1="541.3" x2="275.5" y2="541.3" stroke="#000" stroke-width="1.21"/>
<polygon points="92.8,541.3 99.6,539.74 99.6,542.8599999999999" fill="#000"/>
<polygon points="275.5,541.3 268.7,539.74 268.7,542.8599999999999" fill="#000"/>
<text x="168.5" y="545.6" font-size="13.6" fill="#000" textLength="35.5" lengthAdjust="spacingAndGlyphs">24.10</text>
<line x1="84.5" y1="558" x2="84.5" y2="603.5" stroke="#000" stroke-width="1.21"/>
<line x1="84.5" y1="559.7" x2="118.3" y2="559.7" stroke="#000" stroke-width="1.21"/>
<line x1="152.6" y1="559.7" x2="189.2" y2="559.7" stroke="#000" stroke-width="1.21"/>
<polygon points="84.5,559.7 91.3,558.1400000000001 91.3,561.26" fill="#000"/>
<polygon points="189.2,559.7 182.39999999999998,558.1400000000001 182.39999999999998,561.26" fill="#000"/>
<text x="118.4" y="564.2" font-size="13.6" fill="#000" textLength="34" lengthAdjust="spacingAndGlyphs">13.90</text>
<line x1="189.2" y1="549" x2="189.2" y2="624.5" stroke="#000" stroke-width="1.21"/>
<text x="36.3" y="620.0" font-size="13.6" fill="#000" textLength="33.7" lengthAdjust="spacingAndGlyphs">ø1.00</text>
<line x1="70" y1="615.8" x2="92.9" y2="615.8" stroke="#000" stroke-width="1.21"/>
<polygon points="92.9,615.8 87.10000000000001,614.5 87.10000000000001,617.0999999999999" fill="#000"/>
<polygon points="99.9,615.8 105.7,614.5 105.7,617.0999999999999" fill="#000"/>
<line x1="99.9" y1="615.8" x2="114.7" y2="615.8" stroke="#000" stroke-width="1.21"/>
<line x1="96.4" y1="608" x2="96.4" y2="642" stroke="#000" stroke-width="1.21"/>
<line x1="96.4" y1="623.8" x2="127" y2="623.8" stroke="#000" stroke-width="1.21"/>
<line x1="160.8" y1="623.8" x2="189.2" y2="623.8" stroke="#000" stroke-width="1.21"/>
<polygon points="96.4,623.8 103.2,622.24 103.2,625.3599999999999" fill="#000"/>
<polygon points="189.2,623.8 182.39999999999998,622.24 182.39999999999998,625.3599999999999" fill="#000"/>
<text x="127" y="628.2" font-size="13.6" fill="#000" textLength="33.6" lengthAdjust="spacingAndGlyphs">12.30</text>
<line x1="96.4" y1="639.8" x2="168" y2="639.8" stroke="#000" stroke-width="1.21"/>
<line x1="204" y1="639.8" x2="282.6" y2="639.8" stroke="#000" stroke-width="1.21"/>
<polygon points="96.4,639.8 103.2,638.24 103.2,641.3599999999999" fill="#000"/>
<polygon points="282.6,639.8 275.8,638.24 275.8,641.3599999999999" fill="#000"/>
<text x="168.5" y="644.0" font-size="13.6" fill="#000" textLength="35" lengthAdjust="spacingAndGlyphs">24.60</text>
<line x1="282.6" y1="607" x2="282.6" y2="642" stroke="#000" stroke-width="1.21"/>
<line x1="84.7" y1="569.9" x2="293.7" y2="569.9" stroke="#000" stroke-width="1.15"/>
<line x1="99.8" y1="570.1" x2="276" y2="570.1" stroke="#000" stroke-width="2.42"/>
<line x1="93.4" y1="572.7" x2="247.5" y2="572.7" stroke="#000" stroke-width="0.92"/>
<line x1="84.7" y1="569.9" x2="84.7" y2="603.8" stroke="#000" stroke-width="1.26"/>
<line x1="92.9" y1="569.5" x2="92.9" y2="604" stroke="#000" stroke-width="1.49"/>
<line x1="89.9" y1="570" x2="89.9" y2="583.8" stroke="#000" stroke-width="0.8"/>
<line x1="82.6" y1="579" x2="82.6" y2="582" stroke="#000" stroke-width="1.38"/>
<rect x="94" y="575" width="4.2" height="8" fill="none" stroke="#000" stroke-width="1.84"/>
<line x1="99" y1="575" x2="99" y2="583.5" stroke="#000" stroke-width="0.92"/>
<line x1="101.2" y1="575" x2="101.2" y2="583.5" stroke="#000" stroke-width="0.92"/>
<line x1="94" y1="575" x2="101.2" y2="575" stroke="#000" stroke-width="0.92"/>
<rect x="96.5" y="583.9" width="165" height="3" fill="#fff" stroke="none" stroke-width="0.0"/>
<line x1="96.5" y1="583.9" x2="261.4" y2="583.9" stroke="#000" stroke-width="0.92"/>
<line x1="96.5" y1="586.9" x2="261.4" y2="586.9" stroke="#000" stroke-width="0.92"/>
<line x1="105.60000000000001" y1="583.9" x2="105.60000000000001" y2="586.9" stroke="#000" stroke-width="0.86"/>
<line x1="114.60000000000001" y1="583.9" x2="114.60000000000001" y2="586.9" stroke="#000" stroke-width="0.86"/>
<line x1="116.3" y1="583.9" x2="116.3" y2="586.9" stroke="#000" stroke-width="0.86"/>
<line x1="122.60000000000001" y1="583.9" x2="122.60000000000001" y2="586.9" stroke="#000" stroke-width="0.86"/>
<line x1="118.7" y1="583.9" x2="118.7" y2="586.9" stroke="#000" stroke-width="0.86"/>
<line x1="127.7" y1="583.9" x2="127.7" y2="586.9" stroke="#000" stroke-width="0.86"/>
<line x1="129.4" y1="583.9" x2="129.4" y2="586.9" stroke="#000" stroke-width="0.86"/>
<line x1="135.7" y1="583.9" x2="135.7" y2="586.9" stroke="#000" stroke-width="0.86"/>
<line x1="137.0" y1="583.9" x2="137.0" y2="586.9" stroke="#000" stroke-width="0.86"/>
<line x1="146.0" y1="583.9" x2="146.0" y2="586.9" stroke="#000" stroke-width="0.86"/>
<line x1="147.7" y1="583.9" x2="147.7" y2="586.9" stroke="#000" stroke-width="0.86"/>
<line x1="154.0" y1="583.9" x2="154.0" y2="586.9" stroke="#000" stroke-width="0.86"/>
<line x1="155.70000000000002" y1="583.9" x2="155.70000000000002" y2="586.9" stroke="#000" stroke-width="0.86"/>
<line x1="164.70000000000002" y1="583.9" x2="164.70000000000002" y2="586.9" stroke="#000" stroke-width="0.86"/>
<line x1="166.4" y1="583.9" x2="166.4" y2="586.9" stroke="#000" stroke-width="0.86"/>
<line x1="172.70000000000002" y1="583.9" x2="172.70000000000002" y2="586.9" stroke="#000" stroke-width="0.86"/>
<line x1="174.4" y1="583.9" x2="174.4" y2="586.9" stroke="#000" stroke-width="0.86"/>
<line x1="183.4" y1="583.9" x2="183.4" y2="586.9" stroke="#000" stroke-width="0.86"/>
<line x1="185.1" y1="583.9" x2="185.1" y2="586.9" stroke="#000" stroke-width="0.86"/>
<line x1="191.4" y1="583.9" x2="191.4" y2="586.9" stroke="#000" stroke-width="0.86"/>
<line x1="193.3" y1="583.9" x2="193.3" y2="586.9" stroke="#000" stroke-width="0.86"/>
<line x1="202.3" y1="583.9" x2="202.3" y2="586.9" stroke="#000" stroke-width="0.86"/>
<line x1="204.0" y1="583.9" x2="204.0" y2="586.9" stroke="#000" stroke-width="0.86"/>
<line x1="210.3" y1="583.9" x2="210.3" y2="586.9" stroke="#000" stroke-width="0.86"/>
<line x1="212.3" y1="583.9" x2="212.3" y2="586.9" stroke="#000" stroke-width="0.86"/>
<line x1="221.3" y1="583.9" x2="221.3" y2="586.9" stroke="#000" stroke-width="0.86"/>
<line x1="223.0" y1="583.9" x2="223.0" y2="586.9" stroke="#000" stroke-width="0.86"/>
<line x1="229.3" y1="583.9" x2="229.3" y2="586.9" stroke="#000" stroke-width="0.86"/>
<line x1="231.4" y1="583.9" x2="231.4" y2="586.9" stroke="#000" stroke-width="0.86"/>
<line x1="240.4" y1="583.9" x2="240.4" y2="586.9" stroke="#000" stroke-width="0.86"/>
<line x1="242.1" y1="583.9" x2="242.1" y2="586.9" stroke="#000" stroke-width="0.86"/>
<line x1="248.4" y1="583.9" x2="248.4" y2="586.9" stroke="#000" stroke-width="0.86"/>
<line x1="250.9" y1="583.9" x2="250.9" y2="586.9" stroke="#000" stroke-width="0.86"/>
<line x1="259.9" y1="583.9" x2="259.9" y2="586.9" stroke="#000" stroke-width="0.86"/>
<line x1="261.6" y1="583.9" x2="261.6" y2="586.9" stroke="#000" stroke-width="0.86"/>
<line x1="98" y1="588.9" x2="266.7" y2="588.9" stroke="#111" stroke-width="1.84"/>
<line x1="126" y1="579.8" x2="165" y2="579.8" stroke="#000" stroke-width="0.86"/>
<line x1="112.5" y1="582.4" x2="247.5" y2="582.4" stroke="#000" stroke-width="0.86"/>
<rect x="108.10000000000001" y="576.5" width="4.2" height="7.2" fill="#111" stroke="#000" stroke-width="0.46"/>
<rect x="109.5" y="578.3" width="1.4" height="1.6" fill="#ccc" stroke="none" stroke-width="0.0"/>
<rect x="121.2" y="576.5" width="4.2" height="7.2" fill="#111" stroke="#000" stroke-width="0.46"/>
<rect x="122.6" y="578.3" width="1.4" height="1.6" fill="#ccc" stroke="none" stroke-width="0.0"/>
<rect x="139.5" y="576.5" width="4.2" height="7.2" fill="#111" stroke="#000" stroke-width="0.46"/>
<rect x="140.9" y="578.3" width="1.4" height="1.6" fill="#ccc" stroke="none" stroke-width="0.0"/>
<rect x="158.20000000000002" y="576.5" width="4.2" height="7.2" fill="#111" stroke="#000" stroke-width="0.46"/>
<rect x="159.60000000000002" y="578.3" width="1.4" height="1.6" fill="#ccc" stroke="none" stroke-width="0.0"/>
<rect x="176.9" y="576.5" width="4.2" height="7.2" fill="#111" stroke="#000" stroke-width="0.46"/>
<rect x="178.3" y="578.3" width="1.4" height="1.6" fill="#ccc" stroke="none" stroke-width="0.0"/>
<rect x="195.8" y="576.5" width="4.2" height="7.2" fill="#111" stroke="#000" stroke-width="0.46"/>
<rect x="197.20000000000002" y="578.3" width="1.4" height="1.6" fill="#ccc" stroke="none" stroke-width="0.0"/>
<rect x="214.8" y="576.5" width="4.2" height="7.2" fill="#111" stroke="#000" stroke-width="0.46"/>
<rect x="216.20000000000002" y="578.3" width="1.4" height="1.6" fill="#ccc" stroke="none" stroke-width="0.0"/>
<rect x="233.9" y="576.5" width="4.2" height="7.2" fill="#111" stroke="#000" stroke-width="0.46"/>
<rect x="235.3" y="578.3" width="1.4" height="1.6" fill="#ccc" stroke="none" stroke-width="0.0"/>
<rect x="253.4" y="576.5" width="4.2" height="7.2" fill="#111" stroke="#000" stroke-width="0.46"/>
<rect x="254.8" y="578.3" width="1.4" height="1.6" fill="#ccc" stroke="none" stroke-width="0.0"/>
<path d="M121.4,589.8 V602.9 Q121.4,604.6 123,604.6 Q124.6,604.6 124.6,602.9 V589.8" fill="none" stroke="#000" stroke-width="1.21"/>
<line x1="121.4" y1="602" x2="124.6" y2="602" stroke="#000" stroke-width="0.8"/>
<path d="M139.8,589.8 V602.9 Q139.8,604.6 141.4,604.6 Q143.0,604.6 143.0,602.9 V589.8" fill="none" stroke="#000" stroke-width="1.21"/>
<line x1="139.8" y1="602" x2="143.0" y2="602" stroke="#000" stroke-width="0.8"/>
<path d="M158.6,589.8 V602.9 Q158.6,604.6 160.2,604.6 Q161.79999999999998,604.6 161.79999999999998,602.9 V589.8" fill="none" stroke="#000" stroke-width="1.21"/>
<line x1="158.6" y1="602" x2="161.79999999999998" y2="602" stroke="#000" stroke-width="0.8"/>
<path d="M177.3,589.8 V602.9 Q177.3,604.6 178.9,604.6 Q180.5,604.6 180.5,602.9 V589.8" fill="none" stroke="#000" stroke-width="1.21"/>
<line x1="177.3" y1="602" x2="180.5" y2="602" stroke="#000" stroke-width="0.8"/>
<path d="M196.3,589.8 V602.9 Q196.3,604.6 197.9,604.6 Q199.5,604.6 199.5,602.9 V589.8" fill="none" stroke="#000" stroke-width="1.21"/>
<line x1="196.3" y1="602" x2="199.5" y2="602" stroke="#000" stroke-width="0.8"/>
<path d="M215.3,589.8 V602.9 Q215.3,604.6 216.9,604.6 Q218.5,604.6 218.5,602.9 V589.8" fill="none" stroke="#000" stroke-width="1.21"/>
<line x1="215.3" y1="602" x2="218.5" y2="602" stroke="#000" stroke-width="0.8"/>
<path d="M234.4,589.8 V602.9 Q234.4,604.6 236,604.6 Q237.6,604.6 237.6,602.9 V589.8" fill="none" stroke="#000" stroke-width="1.21"/>
<line x1="234.4" y1="602" x2="237.6" y2="602" stroke="#000" stroke-width="0.8"/>
<path d="M253.70000000000002,589.8 V602.9 Q253.70000000000002,604.6 255.3,604.6 Q256.90000000000003,604.6 256.90000000000003,602.9 V589.8" fill="none" stroke="#000" stroke-width="1.21"/>
<line x1="253.70000000000002" y1="602" x2="256.90000000000003" y2="602" stroke="#000" stroke-width="0.8"/>
<line x1="120.8" y1="572.7" x2="120.8" y2="581.3" stroke="#000" stroke-width="1.03"/>
<rect x="165.7" y="571.2" width="22.3" height="3.4" fill="#999" stroke="#777" stroke-width="0.46"/>
<line x1="169" y1="575.2" x2="222.7" y2="575.2" stroke="#000" stroke-width="1.03"/>
<line x1="169" y1="575.2" x2="169" y2="580" stroke="#000" stroke-width="0.92"/>
<line x1="189.7" y1="574" x2="245.9" y2="571.6" stroke="#000" stroke-width="1.03"/>
<line x1="247.5" y1="571" x2="247.5" y2="580.6" stroke="#000" stroke-width="1.03"/>
<line x1="165" y1="580.4" x2="247.5" y2="580.6" stroke="#000" stroke-width="1.03"/>
<path d="M229,590.5 V600 Q229,603.3 226,603.3 H223.8" fill="none" stroke="#000" stroke-width="2.07"/>
<path d="M92.9,590 V604 H109.5 Q112.2,604 112.2,601 V590" fill="none" stroke="#000" stroke-width="1.26"/>
<line x1="84.7" y1="604" x2="112" y2="604" stroke="#000" stroke-width="1.26"/>
<line x1="78.3" y1="603.3" x2="84.7" y2="603.3" stroke="#000" stroke-width="2.3"/>
<polyline points="92.8,604 92.8,618 92.8,605.2 100.2,605.2 100.2,618" fill="none" stroke="#000" stroke-width="1.15" stroke-linejoin="miter"/>
<polyline points="290.4,569.8 290.4,567.5 293.7,567.5 293.7,569.8" fill="none" stroke="#000" stroke-width="1.03" stroke-linejoin="miter"/>
<line x1="293.7" y1="569.8" x2="293.7" y2="603.8" stroke="#000" stroke-width="1.26"/>
<path d="M293.7,578 L295,580 L293.7,582" fill="none" stroke="#000" stroke-width="1.15"/>
<line x1="276.3" y1="570" x2="276.3" y2="585" stroke="#000" stroke-width="1.84"/>
<rect x="271.8" y="576.5" width="2.9" height="6.5" fill="none" stroke="#000" stroke-width="0.92"/>
<line x1="270.5" y1="584.7" x2="311.9" y2="584.7" stroke="#000" stroke-width="1.03"/>
<line x1="266.7" y1="588.4" x2="327.6" y2="588.4" stroke="#000" stroke-width="1.03"/>
<line x1="293.7" y1="570.2" x2="327.6" y2="570.2" stroke="#000" stroke-width="1.03"/>
<polyline points="266.7,588.4 266.7,603.8 293.7,603.8" fill="none" stroke="#000" stroke-width="1.26" stroke-linejoin="miter"/>
<line x1="284.6" y1="588.4" x2="284.6" y2="603.8" stroke="#000" stroke-width="1.03"/>
<line x1="293.7" y1="603.8" x2="311.4" y2="603.8" stroke="#000" stroke-width="1.84"/>
<text transform="translate(314.9,554) rotate(-90)" font-size="13.6" fill="#000" textLength="25" lengthAdjust="spacingAndGlyphs">1.72</text>
<text transform="translate(330.3,554) rotate(-90)" font-size="13.6" fill="#000" textLength="26.7" lengthAdjust="spacingAndGlyphs">2.27</text>
<line x1="309.5" y1="555" x2="309.5" y2="570" stroke="#000" stroke-width="1.21"/>
<polygon points="309.5,570.4 307.94,563.3 311.06,563.3" fill="#000"/>
<line x1="325.3" y1="555" x2="325.3" y2="570" stroke="#000" stroke-width="1.21"/>
<polygon points="325.3,570.4 323.74,563.3 326.86,563.3" fill="#000"/>
<polygon points="309.5,585 307.94,592.1 311.06,592.1" fill="#000"/>
<line x1="309.5" y1="585" x2="309.5" y2="599.6" stroke="#000" stroke-width="1.21"/>
<polygon points="325.3,588.6 323.74,595.7 326.86,595.7" fill="#000"/>
<line x1="325.3" y1="589" x2="325.3" y2="602.9" stroke="#000" stroke-width="1.21"/>
<line x1="272.7" y1="589.7" x2="272.7" y2="603.5" stroke="#000" stroke-width="1.21"/>
<polygon points="272.7,603.7 271.4,597.9000000000001 274.0,597.9000000000001" fill="#000"/>
<line x1="270.5" y1="606.3" x2="286.2" y2="606.3" stroke="#000" stroke-width="1.72"/>
<polygon points="272.7,607 271.4,612.8 274.0,612.8" fill="#000"/>
<line x1="272.7" y1="607" x2="272.7" y2="623" stroke="#000" stroke-width="1.21"/>
<text transform="translate(276.9,650.5) rotate(-90)" font-size="13.6" fill="#000" textLength="27" lengthAdjust="spacingAndGlyphs">0.45</text>
<line x1="305.2" y1="589.7" x2="305.2" y2="603.5" stroke="#000" stroke-width="1.21"/>
<polygon points="305.2,603.6 303.9,597.8000000000001 306.5,597.8000000000001" fill="#000"/>
<polygon points="305.2,605.2 303.9,611.0 306.5,611.0" fill="#000"/>
<line x1="305.2" y1="605.4" x2="305.2" y2="620" stroke="#000" stroke-width="1.21"/>
<text transform="translate(309.4,647.2) rotate(-90)" font-size="13.6" fill="#000" textLength="26.3" lengthAdjust="spacingAndGlyphs">0.05</text>
<rect x="311.5" y="604.4" width="58.5" height="17.3" fill="none" stroke="#000" stroke-width="1.15"/>
<line x1="336.5" y1="604.4" x2="336.5" y2="621.7" stroke="#000" stroke-width="1.15"/>
<path d="M315.3,616.5 H333 A8.85,7.6 0 0 0 315.3,616.5 Z" fill="none" stroke="#000" stroke-width="1.49"/>
<text x="340.2" y="617.8" font-size="13.8" fill="#000" textLength="27.6" lengthAdjust="spacingAndGlyphs">0.05</text>
</svg>
</body></html>
